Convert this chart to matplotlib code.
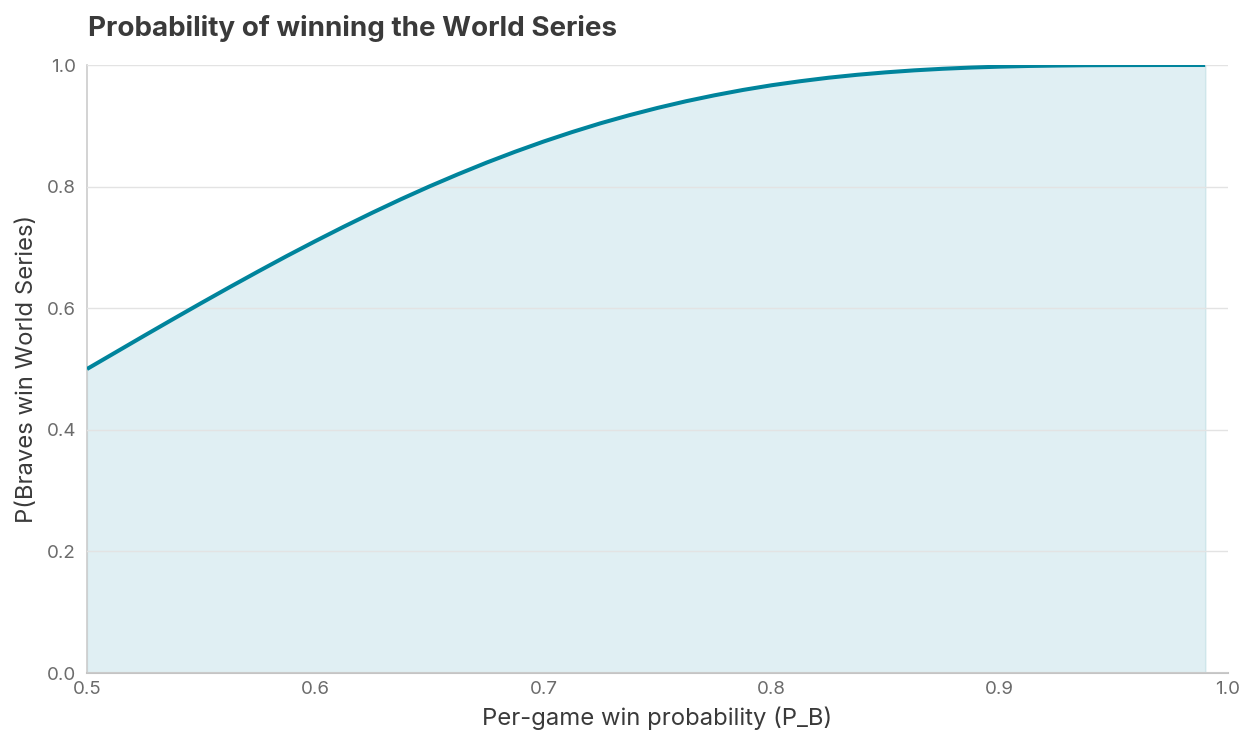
import matplotlib
matplotlib.use("Agg")
import matplotlib.pyplot as plt

p_game = [0.5, 0.5125, 0.525, 0.5375, 0.55, 0.5625, 0.575, 0.5875, 0.6, 0.6125,
          0.625, 0.6375, 0.65, 0.6625, 0.675, 0.6875, 0.7, 0.7125, 0.725, 0.7375,
          0.75, 0.7625, 0.775, 0.7875, 0.8, 0.8125, 0.825, 0.8375, 0.85, 0.8625,
          0.875, 0.8875, 0.9, 0.9125, 0.925, 0.9375, 0.95, 0.975, 0.99]
p_series = [0.5, 0.5273, 0.5546, 0.5816, 0.6083, 0.6346, 0.6604, 0.6857, 0.7102, 0.7340,
            0.7570, 0.7791, 0.8002, 0.8202, 0.8393, 0.8572, 0.8740, 0.8896, 0.9041, 0.9173,
            0.9294, 0.9404, 0.9502, 0.9590, 0.9667, 0.9733, 0.9791, 0.9839, 0.9879, 0.9912,
            0.9938, 0.9958, 0.9973, 0.9984, 0.9991, 0.9996, 0.9998, 1.0, 1.0]
x_ticks = [0.5, 0.6, 0.7, 0.8, 0.9, 1.0]
y_ticks = [0.0, 0.2, 0.4, 0.6, 0.8, 1.0]

plt.rcParams['font.family'] = ['Inter', 'DejaVu Sans']

fig = plt.figure(figsize=(12.58, 7.49), dpi=100)
ax = fig.add_axes([87/1258, 1-673/749, (1228-87)/1258, (673-65)/749])

line_color = '#00849c'
ax.fill_between(p_game, p_series, 0, color='#e0eff3', edgecolor='#cfe6ea', linewidth=1, zorder=1)
ax.plot(p_game, p_series, color=line_color, linewidth=2.9, solid_capstyle='butt',
        solid_joinstyle='round', zorder=3)

ax.set_xlim(0.5, 1.0)
ax.set_ylim(0.0, 1.0)
ax.set_xticks(x_ticks)
ax.set_yticks(y_ticks)
ax.set_xticklabels([f"{v:.1f}" for v in x_ticks])
ax.set_yticklabels([f"{v:.1f}" for v in y_ticks])
ax.grid(axis='y', color='#e3e3e3', linewidth=1, zorder=2)
ax.set_axisbelow(False)
for s in ['top', 'right']:
    ax.spines[s].set_visible(False)
ax.spines['left'].set_color('#cccccc')
ax.spines['bottom'].set_color('#c4c4c4')
ax.spines['left'].set_linewidth(1.2)
ax.spines['bottom'].set_linewidth(1.5)
ax.tick_params(axis='both', length=0, labelsize=13.5, labelcolor='#6b6b6b')
ax.tick_params(axis='y', pad=8)
ax.tick_params(axis='x', pad=6)

ax.set_xlabel('Per-game win probability (P_B)', fontsize=17.2, color='#3a3a3a', labelpad=6)
ax.set_ylabel('P(Braves win World Series)', fontsize=17.2, color='#3a3a3a', labelpad=6)
fig.text(88/1258, 1-28/749, 'Probability of winning the World Series', fontsize=20,
         fontweight='bold', color='#3a3a3a', ha='left', va='center')

fig.savefig('out.png', dpi=100)
